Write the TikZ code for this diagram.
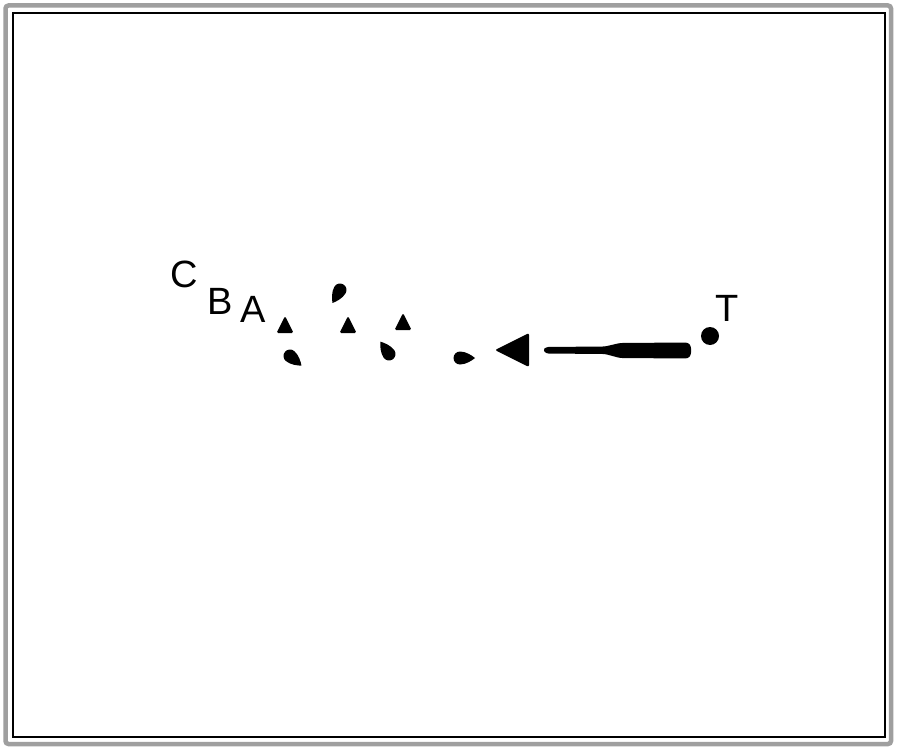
\documentclass[tikz,border=0pt]{standalone}
\usepackage{fontspec}
\setmainfont{Liberation Sans}
\tikzset{
  lbl/.style={inner sep=0pt, font=\fontsize{38}{38}\selectfont},
  tri/.style={fill=black, rounded corners=1.5pt},
  drop/.style={fill=black},
}
\newcommand\mydrop[3]{%
  \fill[drop, shift={(#1)}, rotate=#2] (0,6.5) arc (90:270:6.5)
     .. controls (6,-6.5) and (12,-2.5) .. (15,0)
     .. controls (12,2.5) and (6,6.5) .. (0,6.5) -- cycle;
  \coordinate (#3) at (#1);}
\begin{document}
\begin{tikzpicture}[x=1pt,y=-1pt]
\useasboundingbox (0,0) rectangle (900,752);
\fill[white] (0,0) rectangle (900,752);
% frames
\draw[gray!75, line width=4.5pt, rounded corners=3pt] (5.5,5.5) rectangle (891,744);
\draw[black, line width=1.2pt] (13,13) rectangle (885,737);
% letters
\node[lbl] (C) at (184,274) {C};
\node[lbl] (B) at (220,301) {B};
\node[lbl] (A) at (253,309) {A};
\node[lbl] (T) at (727,308) {T};
% small triangles
\fill[tri] (276.5,333) -- (293.5,333) -- (285,316) -- cycle;
\coordinate (t1) at (285,326);
\fill[tri] (339.5,333) -- (356.5,333) -- (348,316) -- cycle;
\coordinate (t2) at (348,326);
\fill[tri] (394.5,330) -- (411.5,330) -- (403,313) -- cycle;
\coordinate (t3) at (403,323);
% drops
\mydrop{290,356}{-40}{d1}
\mydrop{340,290}{-120}{d2}
\mydrop{389,354}{125}{d3}
\mydrop{460,358}{0}{d4}
% big triangle
\fill[black, rounded corners=2pt] (495,350) -- (529,333) -- (529,367) -- cycle;
\coordinate (bt) at (515,350);
% bar
\fill[black, rounded corners=2.5pt] (543,350) -- (546,347) -- (605,346.5) -- (620,343) -- (688,342.5)
   -- (691,346) -- (691,355) -- (688,358.5) -- (620,358) -- (605,354) -- (546,353.5) -- cycle;
\coordinate (bar) at (617,350);
% circle
\fill[black] (710,336) circle (9);
\coordinate (dot) at (710,336);
\end{tikzpicture}
\end{document}
